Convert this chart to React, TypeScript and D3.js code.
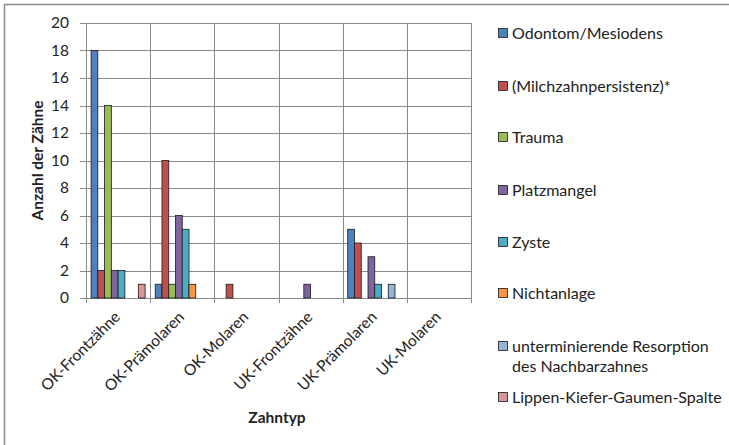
import React from "react";
import * as d3 from "d3";

const categories = ["OK-Frontzähne", "OK-Prämolaren", "OK-Molaren", "UK-Frontzähne", "UK-Prämolaren", "UK-Molaren"];
const seriesNames = [
  "Odontom/Mesiodens",
  "(Milchzahnpersistenz)*",
  "Trauma",
  "Platzmangel",
  "Zyste",
  "Nichtanlage",
  "unterminierende Resorption des Nachbarzahnes",
  "Lippen-Kiefer-Gaumen-Spalte",
];
const odontom = [18, 1, 0, 0, 5, 0];
const milchzahn = [2, 10, 1, 0, 4, 0];
const trauma = [14, 1, 0, 0, 0, 0];
const platzmangel = [2, 6, 0, 1, 3, 0];
const zyste = [2, 5, 0, 0, 1, 0];
const nichtanlage = [0, 1, 0, 0, 0, 0];
const resorption = [0, 0, 0, 0, 1, 0];
const lkg = [1, 0, 0, 0, 0, 0];
const seriesValues = [odontom, milchzahn, trauma, platzmangel, zyste, nichtanlage, resorption, lkg];
const colors = ["#4F81BD", "#C0504D", "#9BBB59", "#8064A2", "#4BACC6", "#F79646", "#95B3D7", "#D99694"];
const yTicks = [0, 2, 4, 6, 8, 10, 12, 14, 16, 18, 20];

const FONT = "Lato, 'Open Sans', sans-serif";

export default function App() {
  const W = 729, H = 445;
  const left = 86, right = 471, top = 23, bottom = 298;
  const x = d3.scaleBand<string>().domain(categories).range([left, right]).paddingInner(0).paddingOuter(0);
  const gap = 1.5;
  const bw = x.bandwidth() / (seriesNames.length + gap);
  const y = d3.scaleLinear().domain([0, 20]).range([bottom, top]);
  const legendY = [33, 86, 137, 190, 242, 293, 346, 397];
  const fs = 15.5;

  return (
    <svg width={W} height={H} style={{ position: "absolute", left: 0, top: 0 }} fontFamily={FONT}>
      <rect x={0} y={0} width={W} height={H} fill="#fff" />
      <line x1={4.5} y1={4} x2={4.5} y2={H} stroke="#8c8c8c" strokeWidth={1.5} />
      <line x1={4} y1={4.5} x2={W} y2={4.5} stroke="#8c8c8c" strokeWidth={1.5} />
      {/* gridlines */}
      {yTicks.map((t) => (
        <line key={"h" + t} x1={left - 6} x2={right} y1={Math.round(y(t)) + 0.5} y2={Math.round(y(t)) + 0.5} stroke="#8a8a8a" strokeWidth={1} />
      ))}
      {categories.map((c) => (
        <line key={"v" + c} x1={Math.round((x(c) as number) + x.bandwidth()) + 0.5} x2={Math.round((x(c) as number) + x.bandwidth()) + 0.5} y1={top} y2={bottom + 5} stroke="#8a8a8a" strokeWidth={1} />
      ))}
      <line x1={left + 0.5} x2={left + 0.5} y1={top} y2={bottom + 5} stroke="#8a8a8a" strokeWidth={1} />
      {/* bars */}
      {seriesValues.map((vals, s) =>
        vals.map((v, i) =>
          v > 0 ? (
            <rect
              key={s + "-" + i}
              x={(x(categories[i]) as number) + bw * (gap / 2 + s)}
              y={y(v)}
              width={bw}
              height={y(0) - y(v)}
              fill={colors[s]}
              stroke="#1a1a1a"
              strokeWidth={0.8}
            />
          ) : null
        )
      )}
      {/* y tick labels */}
      {yTicks.map((t) => (
        <text key={"yt" + t} x={69} y={y(t)} dy="0.35em" textAnchor="end" fontSize={fs} fill="#222">
          {t}
        </text>
      ))}
      {/* x tick labels */}
      {categories.map((c) => {
        const cx = (x(c) as number) + x.bandwidth() / 2 + 3;
        return (
          <text key={"xt" + c} transform={`translate(${cx},${318}) rotate(-45)`} textAnchor="end" fontSize={fs} fill="#222">
            {c}
          </text>
        );
      })}
      <text transform={`translate(43,${(top + bottom) / 2}) rotate(-90)`} textAnchor="middle" fontSize={fs} fontWeight="bold" fill="#222">
        Anzahl der Zähne
      </text>
      <text x={277} y={423} textAnchor="middle" fontSize={fs} fontWeight="bold" fill="#222">
        Zahntyp
      </text>
      {/* legend */}
      {seriesNames.map((n, s) => {
        const ly = legendY[s];
        const lines = s === 6 ? ["unterminierende Resorption", "des Nachbarzahnes"] : [n];
        return (
          <g key={"lg" + s}>
            <rect x={498.5} y={ly - 4.5} width={9} height={9} fill={colors[s]} stroke="#1a1a1a" strokeWidth={0.8} />
            {lines.map((l, k) => (
              <text key={k} x={512} y={ly + k * 20.5} dy="0.35em" fontSize={16} fill="#222">
                {l}
              </text>
            ))}
          </g>
        );
      })}
    </svg>
  );
}
